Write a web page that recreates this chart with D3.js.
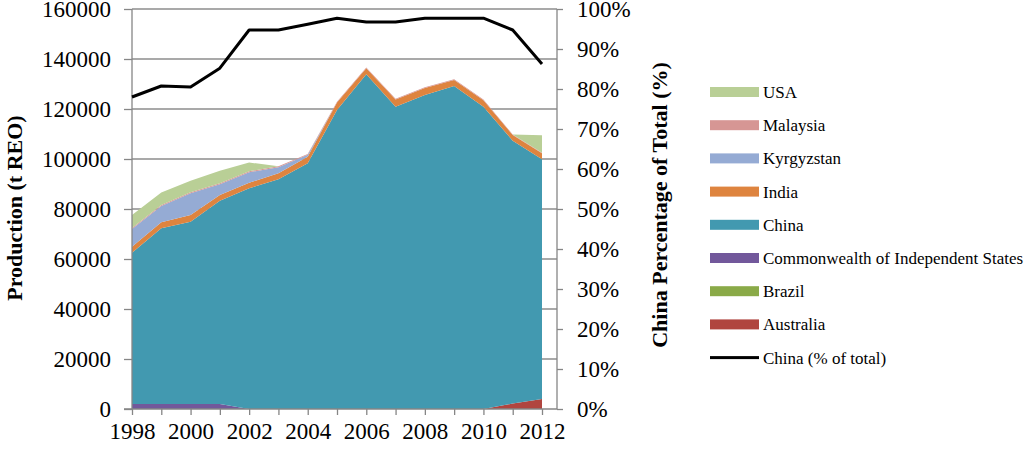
<!DOCTYPE html>
<html>
<head>
<meta charset="utf-8">
<script src="https://cdn.jsdelivr.net/npm/d3@7"></script>
<style>
  body { margin: 0; background: #fff; }
  svg { display: block; font-family: "Liberation Serif", "Times New Roman", serif; }
  .axis text { font-family: "Liberation Serif", "Times New Roman", serif; font-size: 23px; fill: #000; }
  .axis path, .axis line { stroke: #868686; stroke-width: 1.3; }
  .grid line { stroke: #8c8c8c; stroke-width: 1.3; }
  .title { font-size: 22px; font-weight: bold; }
  .legend text { font-size: 17px; }
</style>
</head>
<body>
<svg id="chart" width="1024" height="449"></svg>
<script>
var years = [1998, 1999, 2000, 2001, 2002, 2003, 2004, 2005, 2006, 2007, 2008, 2009, 2010, 2011, 2012];

// production, t REO
var australia  = [0, 0, 0, 0, 0, 0, 0, 0, 0, 0, 0, 0, 0, 2200, 4000];
var brazil     = [0, 0, 0, 0, 0, 0, 0, 0, 0, 0, 0, 0, 0, 0, 0];
var cis        = [2000, 2000, 2000, 2000, 0, 0, 0, 0, 0, 0, 0, 0, 0, 0, 0];
var china      = [60500, 70300, 72900, 81300, 88300, 91900, 98300, 119600, 133900, 120900, 125600, 129200, 120900, 105100, 95900];
var india      = [2400, 2400, 2700, 2300, 2200, 2400, 2600, 3000, 2400, 2900, 2800, 2400, 2600, 2300, 2400];
var kyrgyzstan = [7100, 6500, 8700, 4300, 4200, 2400, 800, 0, 0, 0, 0, 0, 0, 0, 0];
var malaysia   = [400, 400, 400, 400, 400, 400, 350, 300, 300, 300, 300, 300, 300, 250, 250];
var usa        = [5200, 5000, 4600, 5000, 3500, 0, 0, 0, 0, 0, 0, 0, 0, 0, 7000];

// China share of total
var chinaPct = [0.78, 0.8075, 0.805, 0.852, 0.9475, 0.9475, 0.962, 0.977, 0.9675, 0.9675, 0.977, 0.977, 0.977, 0.9475, 0.8625];

var seriesNames  = ["Australia", "Brazil", "Commonwealth of Independent States", "China", "India", "Kyrgyzstan", "Malaysia", "USA"];
var seriesValues = [australia, brazil, cis, china, india, kyrgyzstan, malaysia, usa];
var seriesColors = ["#b0453f", "#8aaa48", "#72589b", "#4299b0", "#de843f", "#95abd4", "#d69694", "#b9cf96"];

var leftTicks  = [0, 20000, 40000, 60000, 80000, 100000, 120000, 140000, 160000];
var rightTicks = [0, 0.1, 0.2, 0.3, 0.4, 0.5, 0.6, 0.7, 0.8, 0.9, 1];
var yearLabels = [1998, 2000, 2002, 2004, 2006, 2008, 2010, 2012];

var svg = d3.select("#chart");

var plot = { left: 132, right: 557, top: 9, bottom: 409 };

var x = d3.scaleLinear().domain([1998, 2012]).range([plot.left, 542]);
var y = d3.scaleLinear().domain([0, 160000]).range([plot.bottom, plot.top]);
var yPct = d3.scaleLinear().domain([0, 1]).range([plot.bottom, plot.top]);

// rows for the stack
var rows = years.map(function(yr, i) {
  var r = { year: yr };
  seriesNames.forEach(function(n, k) { r[n] = seriesValues[k][i]; });
  return r;
});

var stacked = d3.stack().keys(seriesNames)(rows);

// gridlines sit behind the areas
svg.append("g").attr("class", "grid")
  .selectAll("line").data(leftTicks.slice(1)).enter().append("line")
    .attr("x1", plot.left).attr("x2", plot.right)
    .attr("y1", d => y(d)).attr("y2", d => y(d));

var area = d3.area()
    .x(d => x(d.data.year))
    .y0(d => y(d[0]))
    .y1(d => y(d[1]));

svg.append("g")
  .selectAll("path").data(stacked).enter().append("path")
    .attr("fill", (d, i) => seriesColors[i])
    .attr("d", area);

// axes
var xAxis = svg.append("g").attr("class", "axis")
    .attr("transform", "translate(0," + plot.bottom + ")")
    .call(d3.axisBottom(x).tickValues(years).tickSize(6).tickSizeOuter(0)
      .tickFormat(d => yearLabels.indexOf(d) >= 0 ? d : ""));
xAxis.select(".domain").attr("d", "M" + (plot.left - 8) + ",0H" + plot.right);
xAxis.selectAll("text").attr("y", 14).attr("dy", "0.71em");

var yAxis = svg.append("g").attr("class", "axis")
    .attr("transform", "translate(" + plot.left + ",0)")
    .call(d3.axisLeft(y).tickValues(leftTicks).tickSize(8).tickSizeOuter(0).tickFormat(d3.format("d")));
yAxis.select(".domain").attr("d", "M0," + plot.top + "V" + plot.bottom);
yAxis.selectAll("text").attr("x", -21);

var yAxisR = svg.append("g").attr("class", "axis")
    .attr("transform", "translate(" + plot.right + ",0)")
    .call(d3.axisRight(yPct).tickValues(rightTicks).tickSize(6).tickSizeOuter(0).tickFormat(d3.format(".0%")));
yAxisR.select(".domain").attr("d", "M0," + plot.top + "V" + plot.bottom);
yAxisR.selectAll("text").attr("x", 20);

// China share line
var line = d3.line()
    .x((d, i) => x(years[i]))
    .y(d => yPct(d));

svg.append("path")
    .datum(chinaPct)
    .attr("fill", "none")
    .attr("stroke", "#000")
    .attr("stroke-width", 3)
    .attr("stroke-linejoin", "round")
    .attr("d", line);

// axis titles
svg.append("text").attr("class", "title")
    .attr("transform", "translate(22,208) rotate(-90)")
    .attr("text-anchor", "middle")
    .text("Production (t REO)");

svg.append("text").attr("class", "title")
    .attr("transform", "translate(667,205) rotate(-90)")
    .attr("text-anchor", "middle")
    .text("China Percentage of Total (%)");

// legend, top of the stack first
var legendItems = seriesNames.map((n, i) => ({ name: n, color: seriesColors[i], kind: "area" })).reverse();
legendItems.push({ name: "China (% of total)", color: "#000", kind: "line" });

var legend = svg.append("g").attr("class", "legend")
    .attr("transform", "translate(710,92)");

var item = legend.selectAll("g").data(legendItems).enter().append("g")
    .attr("transform", (d, i) => "translate(0," + (i * 33.2) + ")");

item.append("rect")
    .attr("x", 0).attr("width", 49)
    .attr("y", d => d.kind === "line" ? -1.5 : -5)
    .attr("height", d => d.kind === "line" ? 3 : 10)
    .attr("fill", d => d.color);

item.append("text")
    .attr("x", 53)
    .attr("dy", "0.35em")
    .text(d => d.name);
</script>
</body>
</html>
